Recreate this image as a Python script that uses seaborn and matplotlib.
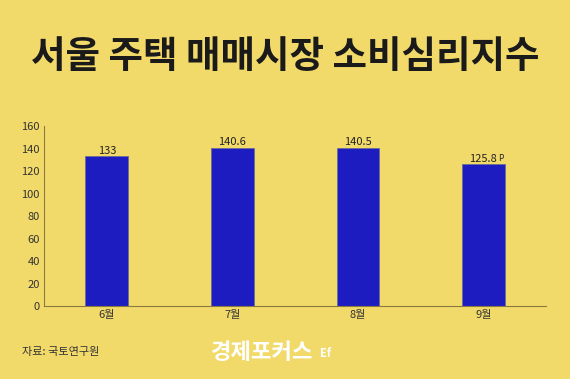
import matplotlib
matplotlib.use("Agg")
import matplotlib.pyplot as plt
import seaborn as sns
import pandas as pd

months = ["6월", "7월", "8월", "9월"]
values = [133, 140.6, 140.5, 125.8]
value_labels = ["133", "140.6", "140.5", "125.8"]
y_ticks = [0, 20, 40, 60, 80, 100, 120, 140, 160]

bg = "#F2DA6A"
bar_color = "#1C1CC0"

sns.set_theme(style="white")
plt.rcParams["font.family"] = ["Noto Sans CJK KR", "DejaVu Sans"]

df = pd.DataFrame({"month": months, "value": values})

fig = plt.figure(figsize=(5.7, 3.79), dpi=100, facecolor=bg)
ax = fig.add_axes([0.0772, 0.1926, 0.881, 0.4749])
ax.set_facecolor(bg)

sns.barplot(data=df, x="month", y="value", color=bar_color, saturation=1,
            width=0.34, edgecolor="#6a6a9a", linewidth=0.6, ax=ax)

for i, (v, lab) in enumerate(zip(values, value_labels)):
    ax.text(i, v + 0.5, lab, ha="center", va="bottom", fontsize=8, color="#222222")
# provisional mark on last value
ax.text(3 + 0.115, values[3] + 1.5, "P", ha="left", va="bottom", fontsize=6, color="#222222")

ax.set_xlim(-0.5, 3.5)
ax.set_ylim(0, 160)
ax.set_yticks(y_ticks)
ax.tick_params(axis="both", labelsize=8, colors="#333333", length=0, pad=3)
ax.set_xlabel("")
ax.set_ylabel("")
for s in ["top", "right"]:
    ax.spines[s].set_visible(False)
for s in ["left", "bottom"]:
    ax.spines[s].set_color("#8a7a40")
    ax.spines[s].set_linewidth(0.8)

fig.text(0.5, 0.852, "서울 주택 매매시장 소비심리지수", ha="center", va="center",
         fontsize=27, fontweight="bold", color="#1a1a1a")
fig.text(0.038, 0.071, "자료: 국토연구원", ha="left", va="center", fontsize=8, color="#333333")
fig.text(0.37, 0.071, "경제포커스", ha="left", va="center", fontsize=16,
         fontweight="bold", color="white")
fig.text(0.562, 0.066, "Ef", ha="left", va="center", fontsize=8,
         fontweight="bold", color="white")

fig.savefig("out.png", dpi=100, facecolor=bg)
